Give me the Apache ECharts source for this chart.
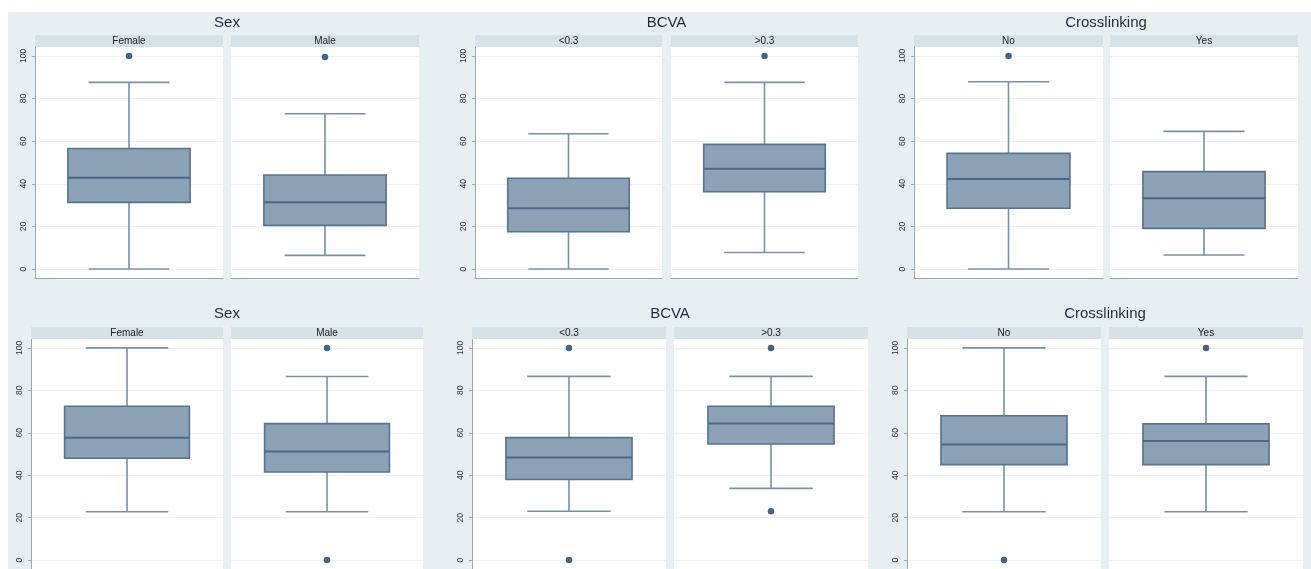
<!DOCTYPE html>
<html>
<head>
<meta charset="utf-8">
<script src="https://cdn.jsdelivr.net/npm/echarts@6/dist/echarts.min.js"></script>
<style>
html,body{margin:0;padding:0;background:#fff;}
#chart{width:1311px;height:569px;}
</style>
</head>
<body>
<div id="chart"></div>
<script>
// ---------- DATA ----------
const panelTitles = ['Sex', 'BCVA', 'Crosslinking', 'Sex', 'BCVA', 'Crosslinking'];
const facetLabels = ['Female', 'Male', '<0.3', '>0.3', 'No', 'Yes',
                     'Female', 'Male', '<0.3', '>0.3', 'No', 'Yes'];
// [lower whisker, Q1, median, Q3, upper whisker]
const boxStats = [
  [0, 31.3, 42.9, 56.6, 87.6],
  [6.4, 20.5, 31.3, 44.1, 72.9],
  [0, 17.5, 28.5, 42.6, 63.5],
  [7.8, 36.3, 47.1, 58.5, 87.6],
  [0, 28.5, 42.3, 54.3, 87.9],
  [6.6, 19.1, 33.2, 45.7, 64.6],
  [22.8, 48.0, 57.6, 72.5, 100],
  [22.8, 41.5, 51.2, 64.3, 86.5],
  [23.0, 38.0, 48.4, 57.7, 86.6],
  [33.8, 54.7, 64.4, 72.5, 86.6],
  [22.8, 45.0, 54.5, 68.0, 100],
  [22.8, 45.0, 56.1, 64.2, 86.6]
];
const outliers = [
  [100], [99.5], [], [100], [100], [],
  [], [100, 0], [100, 0], [100, 23.0], [0], [100]
];
const yTicks = [0, 20, 40, 60, 80, 100];

// ---------- LAYOUT ----------
const facetX = [
  [35, 223], [231, 419], [475, 662], [671, 858], [914, 1103], [1110, 1298],
  [31, 223], [231, 423], [472, 666], [674, 868], [907, 1101], [1109, 1303]
];
const rowTop = [47, 339];
const gridH = 231;
const stripH = 12;
const titleY = [23, 314];

const C = {
  bg: '#e8eff2', strip: '#d6e1e8', fill: '#8ba1b6', border: '#58728f',
  median: '#4c6888', whisker: '#7890a8', dot: '#163c6a', axis: '#9aa6b0',
  grid: '#eef2f5', text: '#2a3440'
};

function renderBox(params, api) {
  const cat = api.value(0);
  const lo = api.coord([cat, api.value(1)]);
  const q1 = api.coord([cat, api.value(2)]);
  const md = api.coord([cat, api.value(3)]);
  const q3 = api.coord([cat, api.value(4)]);
  const hi = api.coord([cat, api.value(5)]);
  const band = api.size([1, 0])[0];
  const cx = lo[0];
  const bw = band * 0.65 / 2, cw = band * 0.43 / 2;
  const wl = {stroke: C.whisker, lineWidth: 1.6};
  return {
    type: 'group',
    children: [
      {type: 'line', shape: {x1: cx, y1: lo[1], x2: cx, y2: q1[1]}, style: wl},
      {type: 'line', shape: {x1: cx, y1: q3[1], x2: cx, y2: hi[1]}, style: wl},
      {type: 'line', shape: {x1: cx - cw, y1: lo[1], x2: cx + cw, y2: lo[1]}, style: wl},
      {type: 'line', shape: {x1: cx - cw, y1: hi[1], x2: cx + cw, y2: hi[1]}, style: wl},
      {type: 'rect', shape: {x: cx - bw, y: q3[1], width: 2 * bw, height: q1[1] - q3[1]},
       style: {fill: C.fill, stroke: C.border, lineWidth: 1.6}},
      {type: 'line', shape: {x1: cx - bw, y1: md[1], x2: cx + bw, y2: md[1]},
       style: {stroke: C.median, lineWidth: 2}}
    ]
  };
}

const grids = [], xAxes = [], yAxes = [], series = [];
const graphics = [{
  type: 'rect', z: -100, shape: {x: 8, y: 12, width: 1303, height: 557},
  style: {fill: C.bg}
}];

for (let i = 0; i < 12; i++) {
  const row = i < 6 ? 0 : 1;
  const first = i % 2 === 0;
  const [l, r] = facetX[i];
  grids.push({
    left: l, top: rowTop[row], width: r - l, height: gridH,
    show: true, backgroundColor: '#ffffff', borderWidth: 0, containLabel: false
  });
  xAxes.push({
    type: 'category', gridIndex: i, data: [facetLabels[i]], position: 'bottom',
    axisLine: {show: true, onZero: false, lineStyle: {color: C.axis, width: 1}},
    axisTick: {show: false}, axisLabel: {show: false}, splitLine: {show: false}
  });
  yAxes.push({
    type: 'value', gridIndex: i, min: -4.2, max: 104.2,
    axisLine: {show: first, onZero: false, lineStyle: {color: C.axis, width: 1}},
    axisTick: {show: first, length: 3, customValues: yTicks, lineStyle: {color: C.axis}},
    axisLabel: {show: first, customValues: yTicks, rotate: 90, fontSize: 8.5,
                color: C.text, margin: 7, fontFamily: 'Liberation Sans, Arial, sans-serif'},
    splitLine: {show: true, lineStyle: {color: C.grid, width: 1}}
  });
  series.push({
    type: 'custom', xAxisIndex: i, yAxisIndex: i, renderItem: renderBox,
    encode: {x: 0, y: [1, 2, 3, 4, 5]},
    data: [[0].concat(boxStats[i])], z: 3
  });
  series.push({
    type: 'scatter', xAxisIndex: i, yAxisIndex: i, symbolSize: 6.5,
    itemStyle: {color: C.dot}, z: 4,
    data: outliers[i].map(v => [0, v])
  });
  // strip
  graphics.push({
    type: 'rect', z: 10, shape: {x: l, y: rowTop[row] - stripH, width: r - l, height: stripH},
    style: {fill: C.strip}
  });
  graphics.push({
    type: 'text', z: 11, x: (l + r) / 2, y: rowTop[row] - stripH / 2,
    style: {text: facetLabels[i], fill: '#222', fontSize: 10, align: 'center',
            verticalAlign: 'middle', fontFamily: 'Liberation Sans, Arial, sans-serif'}
  });
}

for (let p = 0; p < 6; p++) {
  const row = p < 3 ? 0 : 1;
  const l = facetX[p * 2][0], r = facetX[p * 2 + 1][1];
  graphics.push({
    type: 'text', z: 11, x: (l + r) / 2, y: titleY[row],
    style: {text: panelTitles[p], fill: '#1f2c3c', fontSize: 15, align: 'center',
            verticalAlign: 'middle', fontFamily: 'Liberation Sans, Arial, sans-serif'}
  });
}

const chart = echarts.init(document.getElementById('chart'), null, {renderer: 'canvas'});
chart.setOption({
  backgroundColor: '#ffffff',
  animation: false,
  graphic: graphics,
  grid: grids,
  xAxis: xAxes,
  yAxis: yAxes,
  series: series
});
</script>
</body>
</html>
